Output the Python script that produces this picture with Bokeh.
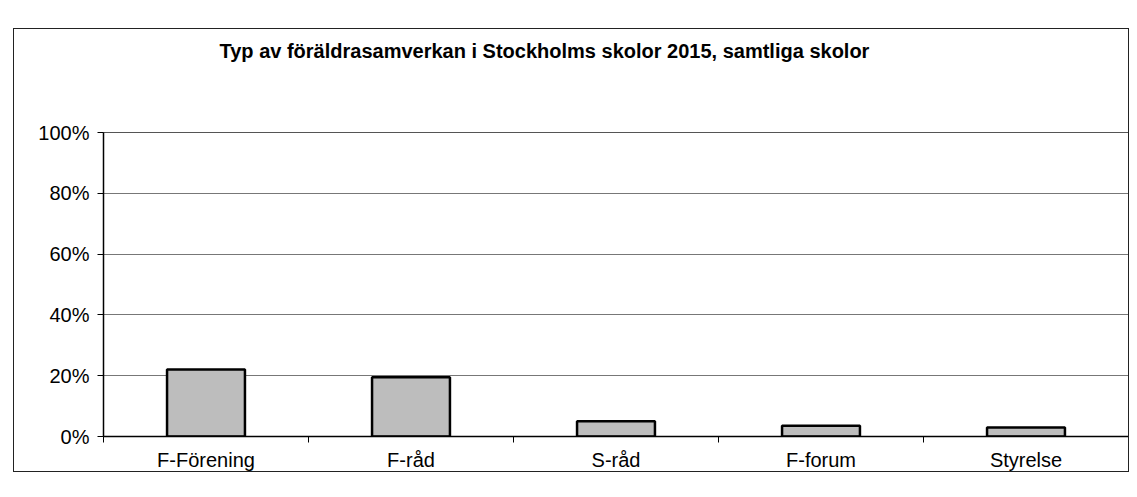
import numpy as np
from bokeh.plotting import figure
from bokeh.models import FixedTicker, NumeralTickFormatter, Range1d, Title
from bokeh.embed import file_html
from bokeh.resources import INLINE

categories = ["F-Förening", "F-råd", "S-råd", "F-forum", "Styrelse"]
values = [0.22, 0.195, 0.05, 0.035, 0.03]
y_ticks = [0, 0.2, 0.4, 0.6, 0.8, 1.0]
title_text = "Typ av föräldrasamverkan i Stockholms skolor 2015, samtliga skolor"

xc = np.arange(len(categories)) + 0.5

p = figure(width=1116, height=444, output_backend="svg", toolbar_location=None,
           x_range=Range1d(0, len(categories)), y_range=Range1d(0, 1),
           min_border_left=89, min_border_right=2, min_border_top=0, min_border_bottom=34)
p.margin = (28, 0, 0, 13)
p.styles = {"border": "1px solid #222"}

spacer_low = Title(text=" ", text_font="Liberation Sans", text_font_size="62px", standoff=0)
p.add_layout(spacer_low, "above")
t = Title(text=title_text, align="left", offset=116, standoff=0,
          text_font="Liberation Sans", text_font_size="20px", text_font_style="bold",
          text_color="black")
p.add_layout(t, "above")
spacer_high = Title(text=" ", text_font="Liberation Sans", text_font_size="6px", standoff=0)
p.add_layout(spacer_high, "above")

p.vbar(x=xc, top=values, width=0.38, fill_color="#bdbdbd", line_color="black", line_width=2.5)

p.xaxis.ticker = FixedTicker(ticks=list(xc), minor_ticks=list(range(len(categories) + 1)))
p.xaxis.major_label_overrides = {float(x): c for x, c in zip(xc, categories)}
p.xaxis.major_tick_line_color = None
p.xaxis.minor_tick_line_color = "black"
p.xaxis.minor_tick_out = 6
p.xaxis.minor_tick_in = 0
p.xaxis.major_label_standoff = 6
p.xaxis.major_label_text_font = "Liberation Sans"
p.xaxis.major_label_text_font_size = "20px"
p.xaxis.major_label_text_color = "black"
p.xaxis.axis_line_color = "black"
p.xaxis.axis_line_width = 1.5

p.yaxis.ticker = FixedTicker(ticks=y_ticks, minor_ticks=[])
p.yaxis.formatter = NumeralTickFormatter(format="0%")
p.yaxis.major_tick_out = 6
p.yaxis.major_tick_in = 0
p.yaxis.major_tick_line_color = "black"
p.yaxis.major_label_standoff = 8
p.yaxis.major_label_text_font = "Liberation Sans"
p.yaxis.major_label_text_font_size = "20px"
p.yaxis.major_label_text_color = "black"
p.yaxis.axis_line_color = "black"
p.yaxis.axis_line_width = 1.5

p.xgrid.grid_line_color = None
p.ygrid.ticker = FixedTicker(ticks=y_ticks)
p.ygrid.grid_line_color = "#777777"
p.ygrid.grid_line_width = 1

p.outline_line_color = "#555555"
p.outline_line_width = 1
p.background_fill_color = "white"
p.border_fill_color = "white"

open("out.html", "w").write(file_html(p, INLINE))
